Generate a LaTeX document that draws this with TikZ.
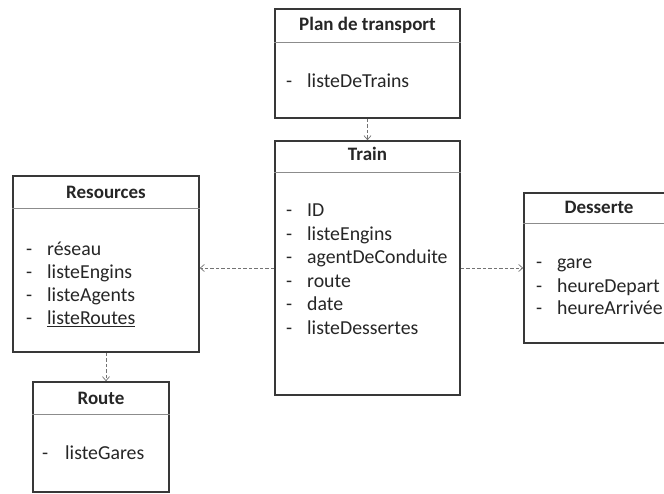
\documentclass[tikz,border=0pt]{standalone}
\usepackage{fontspec}
\setmainfont{Carlito}
\usetikzlibrary{arrows.meta}
\begin{document}
\begin{tikzpicture}[x=1pt,y=-1pt,
  umlbox/.style={draw=black!78, line width=1.6pt, inner sep=0pt, fill=white},
  sep/.style={draw=black!45, line width=0.7pt},
  title/.style={font=\fontsize{19}{22}\selectfont\bfseries, inner sep=0pt, text=black!85, text height=0.7em, text depth=0.2em, yshift=-3pt},
  item/.style={font=\fontsize{19.8}{22}\selectfont, inner sep=0pt, anchor=west, text=black!85, text height=0.7em, text depth=0.2em, yshift=-3pt},
  conn/.style={draw=black!55, line width=0.7pt, dash pattern=on 3.5pt off 2pt, -{Straight Barb[length=4pt,width=7pt]}}
]
\useasboundingbox (0,0) rectangle (664,494);

% Plan de transport
\node[umlbox, minimum width=185pt, minimum height=109pt] (plan) at (367.5,63.5) {};
\draw[sep] (plan.west |- 0,42) -- (plan.east |- 0,42);
\node[title] (plant) at (367.5,25) {Plan de transport};
\node[item] (pd1) at (286,82) {-};
\node[item] (pi1) at (307,82) {listeDeTrains};

% Train
\node[umlbox, minimum width=185pt, minimum height=254pt] (train) at (367.5,268) {};
\draw[sep] (train.west |- 0,172) -- (train.east |- 0,172);
\node[title] (traint) at (367.5,155) {Train};
\node[item] (td1) at (286,211) {-};
\node[item] (ti1) at (307,211) {ID};
\node[item] (td2) at (286,235) {-};
\node[item] (ti2) at (307,235) {listeEngins};
\node[item] (td3) at (286,258) {-};
\node[item] (ti3) at (307,258) {agentDeConduite};
\node[item] (td4) at (286,282) {-};
\node[item] (ti4) at (307,282) {route};
\node[item] (td5) at (286,305) {-};
\node[item] (ti5) at (307,305) {date};
\node[item] (td6) at (286,329) {-};
\node[item] (ti6) at (307,329) {listeDessertes};

% Resources
\node[umlbox, minimum width=186pt, minimum height=176pt] (res) at (106,264) {};
\draw[sep] (res.west |- 0,208) -- (res.east |- 0,208);
\node[title] (rest) at (106,193) {Resources};
\node[item] (rd1) at (26,250) {-};
\node[item] (ri1) at (47,250) {réseau};
\node[item] (rd2) at (26,273) {-};
\node[item] (ri2) at (47,273) {listeEngins};
\node[item] (rd3) at (26,296) {-};
\node[item] (ri3) at (47,296) {listeAgents};
\node[item] (rd4) at (26,319) {-};
\node[item] (ri4) at (47,319) {\underline{listeRoutes}};

% Route
\node[umlbox, minimum width=136pt, minimum height=110pt] (route) at (101,437) {};
\draw[sep] (route.west |- 0,414) -- (route.east |- 0,414);
\node[title] (routet) at (101,399) {Route};
\node[item] (od1) at (42,454) {-};
\node[item] (oi1) at (65,454) {listeGares};

% Desserte
\node[umlbox, minimum width=148pt, minimum height=150pt] (des) at (598,268) {};
\draw[sep] (des.west |- 0,223) -- (des.east |- 0,223);
\node[title] (dest) at (599,208) {Desserte};
\node[item] (dd1) at (536,263) {-};
\node[item] (di1) at (557,263) {gare};
\node[item] (dd2) at (536,287) {-};
\node[item] (di2) at (557,287) {heureDepart};
\node[item] (dd3) at (536,309) {-};
\node[item] (di3) at (557,309) {heureArrivée};

% connectors
\draw[conn] (plan.south) -- (train.north);
\draw[conn] (train.west) -- (train.west -| res.east);
\draw[conn] (train.east) -- (train.east -| des.west);
\draw[conn] (res.south) -- (res.south |- route.north);
\end{tikzpicture}
\end{document}
